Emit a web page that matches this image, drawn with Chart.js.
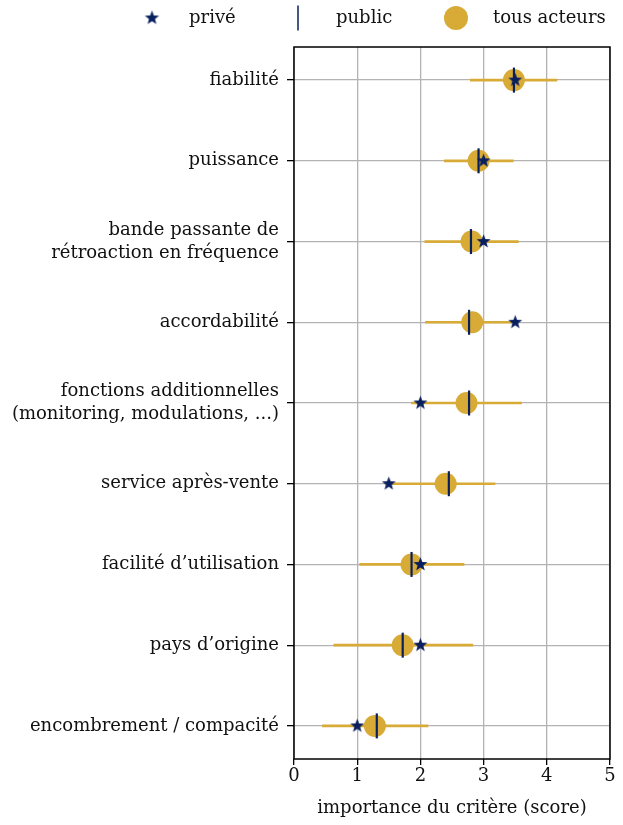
<!DOCTYPE html>
<html>
<head>
<meta charset="utf-8">
<script src="https://cdn.jsdelivr.net/npm/chart.js@4.4.0/dist/chart.umd.min.js"></script>
<style>
    html, body { margin: 0; padding: 0; background: #fff; }
    #wrap { width: 623px; height: 825px; }
</style>
</head>
<body>
<div id="wrap"><canvas id="criteriaChart"></canvas></div>
<script>
const criteria = [
    'fiabilité',
    'puissance',
    ['bande passante de', 'rétroaction en fréquence'],
    'accordabilité',
    ['fonctions additionnelles', '(monitoring, modulations, ...)'],
    'service après-vente',
    'facilité d’utilisation',
    'pays d’origine',
    'encombrement / compacité'
]
const privateScores = [3.5, 3.0, 3.0, 3.5, 2.0, 1.5, 2.0, 2.0, 1.0]
const publicScores = [3.48, 2.92, 2.80, 2.77, 2.77, 2.45, 1.86, 1.72, 1.31]
const allScores = [3.48, 2.92, 2.81, 2.82, 2.73, 2.40, 1.86, 1.72, 1.28]
const allLow = [2.79, 2.38, 2.07, 2.08, 1.86, 1.55, 1.04, 0.63, 0.45]
const allHigh = [4.16, 3.47, 3.55, 3.45, 3.60, 3.18, 2.69, 2.83, 2.12]
const xTicks = [0, 1, 2, 3, 4, 5]
const legendLabels = ['privé', 'public', 'tous acteurs']

const gold = '#d7ab36'
const navy = '#0a1f5e'
const fontFamily = '"DejaVu Serif", serif'

// filled five-point star, Chart.js only has an outline one
const makeStar = (outer) => {
    const size = Math.ceil(outer * 2 + 2)
    const c = document.createElement('canvas')
    c.width = size
    c.height = size
    const ctx = c.getContext('2d')
    const inner = outer * 0.42
    ctx.beginPath()
    for (let i = 0; i < 10; i++) {
        const r = i % 2 ? inner : outer
        const a = -Math.PI / 2 + i * Math.PI / 5
        ctx.lineTo(size / 2 + r * Math.cos(a), size / 2 + r * Math.sin(a))
    }
    ctx.closePath()
    ctx.fillStyle = navy
    ctx.fill()
    return c
}
const starPoint = makeStar(7.3)
const starLegend = makeStar(7.5)

const idx = criteria.map((_, i) => i)

const legendMarks = [
    {pointStyle: starLegend, radius: 8, rotation: 0},
    {pointStyle: 'line', radius: 12.5, rotation: 90},
    {pointStyle: 'circle', radius: 12, rotation: 0},
]

const frameAndLegend = {
    id: 'frameAndLegend',
    afterDraw(chart) {
        const {ctx, chartArea} = chart
        ctx.save()
        ctx.strokeStyle = '#000'
        ctx.lineWidth = 1.5
        ctx.strokeRect(chartArea.left, chartArea.top, chartArea.right - chartArea.left, chartArea.bottom - chartArea.top)

        const markX = [152, 298, 456]
        const textX = [189, 336, 493]
        ctx.font = '18px ' + fontFamily
        ctx.textBaseline = 'middle'
        ctx.fillStyle = '#111'
        legendMarks.forEach((m, i) => {
            ctx.save()
            ctx.fillStyle = i === 2 ? gold : navy
            ctx.strokeStyle = navy
            Chart.helpers.drawPoint(ctx, {
                pointStyle: m.pointStyle,
                radius: m.radius,
                rotation: m.rotation,
                borderWidth: i === 1 ? 2.2 : 0
            }, markX[i], 18)
            ctx.restore()
            ctx.fillText(legendLabels[i], textX[i], 18)
        })
        ctx.restore()
    }
}

new Chart(document.getElementById('criteriaChart'), {
    type: 'scatter',
    data: {
        datasets: [
            {
                label: 'privé',
                data: idx.map(i => ({x: privateScores[i], y: i})),
                pointStyle: starPoint,
                pointRadius: 7,
            },
            {
                label: 'public',
                data: idx.map(i => ({x: publicScores[i], y: i})),
                pointStyle: 'line',
                rotation: 90,
                pointRadius: 12.5,
                borderColor: navy,
                borderWidth: 2.2,
            },
            {
                label: 'tous acteurs',
                data: idx.map(i => ({x: allScores[i], y: i})),
                pointStyle: 'circle',
                pointRadius: 11,
                backgroundColor: gold,
                borderWidth: 0,
            },
            {
                type: 'bar',
                label: 'intervalle',
                indexAxis: 'y',
                data: idx.map(i => ({y: i, x: [allLow[i], allHigh[i]]})),
                backgroundColor: gold,
                barThickness: 2,
                borderWidth: 0,
            },
        ]
    },
    options: {
        responsive: true,
        maintainAspectRatio: false,
        animation: false,
        layout: {autoPadding: false, padding: {top: 47, right: 13, bottom: 6, left: 0}},
        plugins: {
            legend: {display: false},
            tooltip: {enabled: false},
        },
        scales: {
            x: {
                type: 'linear',
                min: 0,
                max: 5,
                offset: false,
                afterBuildTicks: (scale) => { scale.ticks = xTicks.map(v => ({value: v})) },
                afterFit: (scale) => {
                    scale.height = 60
                    scale.paddingLeft = 0
                    scale.paddingRight = 0
                },
                grid: {color: '#b3b3b3', lineWidth: 1.3, tickColor: '#000', tickLength: 6, offset: false},
                border: {display: false},
                ticks: {color: '#111', font: {family: fontFamily, size: 18}, padding: 1},
                title: {
                    display: true,
                    text: 'importance du critère (score)',
                    color: '#111',
                    font: {family: fontFamily, size: 18},
                    padding: {top: 0, bottom: 0},
                },
            },
            y: {
                type: 'linear',
                reverse: true,
                min: -0.41,
                max: 8.41,
                offset: false,
                afterBuildTicks: (scale) => { scale.ticks = idx.map(v => ({value: v})) },
                afterFit: (scale) => {
                    scale.width = 294
                    scale.paddingTop = 0
                    scale.paddingBottom = 0
                },
                grid: {color: '#b3b3b3', lineWidth: 1.3, tickColor: '#000', tickLength: 7, offset: false},
                border: {display: false},
                ticks: {
                    color: '#111',
                    font: {family: fontFamily, size: 18, lineHeight: 1.3},
                    padding: 8,
                    callback: (value) => criteria[value],
                },
            },
        },
    },
    plugins: [frameAndLegend],
});
</script>
</body>
</html>
